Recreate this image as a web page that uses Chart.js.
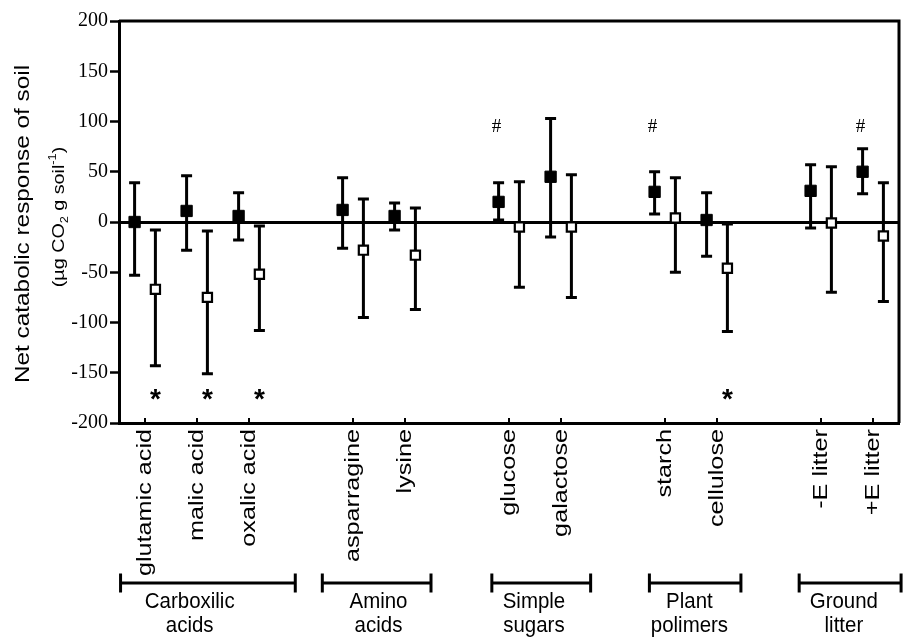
<!DOCTYPE html>
<html>
<head>
<meta charset="utf-8">
<script src="https://cdn.jsdelivr.net/npm/chart.js@4.4.1/dist/chart.umd.min.js"></script>
<style>
  html, body { margin: 0; padding: 0; background: #fff; overflow: hidden; }
  #wrap { width: 908px; height: 637px; position: relative; }
</style>
</head>
<body>
<div id="wrap"><canvas id="chart"></canvas></div>
<script>
var categories = ['glutamic acid', 'malic acid', 'oxalic acid', 'asparragine', 'lysine',
  'glucose', 'galactose', 'starch', 'cellulose', '-E litter', '+E litter'];
var groupNames = [['Carboxilic', 'acids'], ['Amino', 'acids'], ['Simple', 'sugars'], ['Plant', 'polimers'], ['Ground', 'litter']];
var groupSizes = [3, 2, 2, 2, 2];

// filled squares: mean and ends of the error bars
var filledMean = [0, 11, 6, 12, 6, 20, 45, 30, 2, 31, 50];
var filledHigh = [39, 46, 29, 44, 19, 39, 103, 50, 29, 57, 73];
var filledLow = [-53, -28, -18, -26, -8, 2, -15, 8, -34, -6, 28];

// open squares
var openMean = [-67, -75, -52, -28, -33, -5, -5, 4, -46, -1, -14];
var openHigh = [-8, -9, -4, 23, 14, 40, 47, 44, -2, 55, 39];
var openLow = [-143, -151, -108, -95, -87, -65, -75, -50, -109, -70, -79];

// significance marks: * under open squares, # above filled squares
var starOpen = [1, 1, 1, 0, 0, 0, 0, 0, 1, 0, 0];
var hashFilled = [0, 0, 0, 0, 0, 1, 0, 1, 0, 0, 1];

var yMin = -200, yMax = 200, yStep = 50;

// layout of the group brackets below the axis (axis units)
var bracketSpan = [[-0.47, 2.89], [3.41, 5.5], [6.67, 8.57], [9.7, 11.46], [12.58, 14.54]];
var groupLabelAt = [0.86, 4.49, 7.48, 10.47, 13.44];
var starAt = -172, hashAt = 96;

// one empty slot between groups
var slots = [];
var k = 0;
groupSizes.forEach(function (n, g) {
  for (var j = 0; j < n; j++) { slots.push(k + g); k++; }
});
var lastSlot = slots[slots.length - 1];

var filledPts = slots.map(function (s, i) { return { x: s - 0.2, y: filledMean[i] }; });
var openPts = slots.map(function (s, i) { return { x: s + 0.2, y: openMean[i] }; });

var SANS = "'Liberation Sans', Arial, sans-serif";
var SERIF = "'Liberation Serif', 'Times New Roman', serif";

function glyphCenterText(ctx, txt, cx, cy) {
  var m = ctx.measureText(txt);
  var by = cy + (m.actualBoundingBoxAscent - m.actualBoundingBoxDescent) / 2;
  ctx.fillText(txt, cx, by);
}

var extras = {
  id: 'extras',
  beforeDatasetsDraw: function (chart) {
    var ctx = chart.ctx, xs = chart.scales.x, ys = chart.scales.y;
    ctx.save();
    ctx.strokeStyle = '#000';
    ctx.lineWidth = 3;
    function bar(px, hi, lo) {
      var t = ys.getPixelForValue(hi), b = ys.getPixelForValue(lo);
      ctx.beginPath();
      ctx.moveTo(px, t); ctx.lineTo(px, b);
      ctx.moveTo(px - 5.5, t); ctx.lineTo(px + 5.5, t);
      ctx.moveTo(px - 5.5, b); ctx.lineTo(px + 5.5, b);
      ctx.stroke();
    }
    slots.forEach(function (s, i) {
      bar(xs.getPixelForValue(s - 0.2), filledHigh[i], filledLow[i]);
      bar(xs.getPixelForValue(s + 0.2), openHigh[i], openLow[i]);
    });
    ctx.restore();
  },
  afterDraw: function (chart) {
    var ctx = chart.ctx, xs = chart.scales.x, ys = chart.scales.y;
    var a = chart.chartArea;
    ctx.save();
    ctx.strokeStyle = '#000';
    ctx.fillStyle = '#000';

    // top and right frame
    ctx.lineWidth = 3;
    ctx.beginPath();
    ctx.moveTo(a.left, a.top); ctx.lineTo(a.right, a.top); ctx.lineTo(a.right, a.bottom);
    ctx.stroke();

    // small inner ticks on the x axis
    ctx.lineWidth = 2;
    ctx.beginPath();
    slots.forEach(function (s) {
      var px = Math.round(xs.getPixelForValue(s));
      ctx.moveTo(px, a.bottom - 5); ctx.lineTo(px, a.bottom);
    });
    ctx.stroke();

    // rotated category labels
    ctx.font = '21px ' + SANS;
    ctx.textAlign = 'right';
    ctx.textBaseline = 'alphabetic';
    slots.forEach(function (s, i) {
      var px = xs.getPixelForValue(s);
      ctx.save();
      ctx.translate(px + 5.5, a.bottom + 6);
      ctx.rotate(-Math.PI / 2);
      ctx.scale(1.2, 1);
      ctx.fillText(categories[i], 0, 0);
      ctx.restore();
    });

    // y axis title, two lines
    ctx.save();
    ctx.translate(29, 224);
    ctx.rotate(-Math.PI / 2);
    ctx.scale(1.16, 1);
    ctx.textAlign = 'center';
    ctx.font = '21px ' + SANS;
    ctx.fillText('Net catabolic response of soil', 0, 0);
    ctx.restore();

    var parts = [
      { t: '(\u00b5g CO', s: 17, dy: 0 },
      { t: '2', s: 11, dy: 4 },
      { t: ' g soil', s: 17, dy: 0 },
      { t: '-1', s: 11, dy: -8 },
      { t: ')', s: 17, dy: 0 }
    ];
    ctx.save();
    ctx.translate(64, 217);
    ctx.rotate(-Math.PI / 2);
    ctx.scale(1.16, 1);
    ctx.textAlign = 'left';
    var total = 0;
    parts.forEach(function (p) { ctx.font = p.s + 'px ' + SANS; p.w = ctx.measureText(p.t).width; total += p.w; });
    var cx = -total / 2;
    parts.forEach(function (p) { ctx.font = p.s + 'px ' + SANS; ctx.fillText(p.t, cx, p.dy); cx += p.w; });
    ctx.restore();

    // group brackets and names
    var by = 583;
    ctx.lineWidth = 3;
    bracketSpan.forEach(function (sp) {
      var x1 = xs.getPixelForValue(sp[0]), x2 = xs.getPixelForValue(sp[1]);
      ctx.beginPath();
      ctx.moveTo(x1, by); ctx.lineTo(x2, by);
      ctx.moveTo(x1, by - 9.5); ctx.lineTo(x1, by + 9.5);
      ctx.moveTo(x2, by - 9.5); ctx.lineTo(x2, by + 9.5);
      ctx.stroke();
    });
    ctx.font = '22px ' + SANS;
    ctx.textAlign = 'center';
    groupNames.forEach(function (nm, g) {
      var px = xs.getPixelForValue(groupLabelAt[g]);
      ctx.save();
      ctx.translate(px, 0);
      ctx.scale(0.93, 1);
      ctx.fillText(nm[0], 0, 608);
      ctx.fillText(nm[1], 0, 632);
      ctx.restore();
    });

    // significance marks
    ctx.textAlign = 'center';
    ctx.font = 'bold 28px ' + SANS;
    starOpen.forEach(function (f, i) {
      if (f) glyphCenterText(ctx, '*', xs.getPixelForValue(slots[i] + 0.2), ys.getPixelForValue(starAt));
    });
    ctx.font = '19px ' + SERIF;
    hashFilled.forEach(function (f, i) {
      if (f) glyphCenterText(ctx, '#', xs.getPixelForValue(slots[i] - 0.2) - 2, ys.getPixelForValue(hashAt));
    });
    ctx.restore();
  }
};

new Chart(document.getElementById('chart'), {
  type: 'scatter',
  data: {
    datasets: [
      {
        label: 'filled',
        data: filledPts,
        pointStyle: 'rect',
        pointRadius: 8,
        backgroundColor: '#000',
        borderColor: '#000',
        borderWidth: 1
      },
      {
        label: 'open',
        data: openPts,
        pointStyle: 'rect',
        pointRadius: 6.5,
        backgroundColor: '#fff',
        borderColor: '#000',
        borderWidth: 2.2
      }
    ]
  },
  options: {
    responsive: true,
    maintainAspectRatio: false,
    animation: false,
    layout: { padding: { left: 0, right: 3, top: 21, bottom: 0 } },
    plugins: { legend: { display: false }, tooltip: { enabled: false } },
    scales: {
      x: {
        type: 'linear',
        min: -0.5,
        max: lastSlot + 0.5,
        ticks: { display: false },
        grid: { display: false, drawTicks: false },
        border: { display: true, color: '#000', width: 3 },
        afterFit: function (s) { s.height = 214; }
      },
      y: {
        min: yMin,
        max: yMax,
        ticks: {
          stepSize: yStep,
          color: '#000',
          padding: 2,
          font: { family: SERIF, size: 20 }
        },
        grid: {
          color: function (c) { return c.tick && c.tick.value === 0 ? '#000' : 'rgba(0,0,0,0)'; },
          lineWidth: 3,
          tickColor: '#000',
          tickLength: 9,
          tickWidth: 2.5
        },
        border: { display: true, color: '#000', width: 3 },
        afterFit: function (s) { s.width = 119; }
      }
    }
  },
  plugins: [extras]
});
</script>
</body>
</html>
